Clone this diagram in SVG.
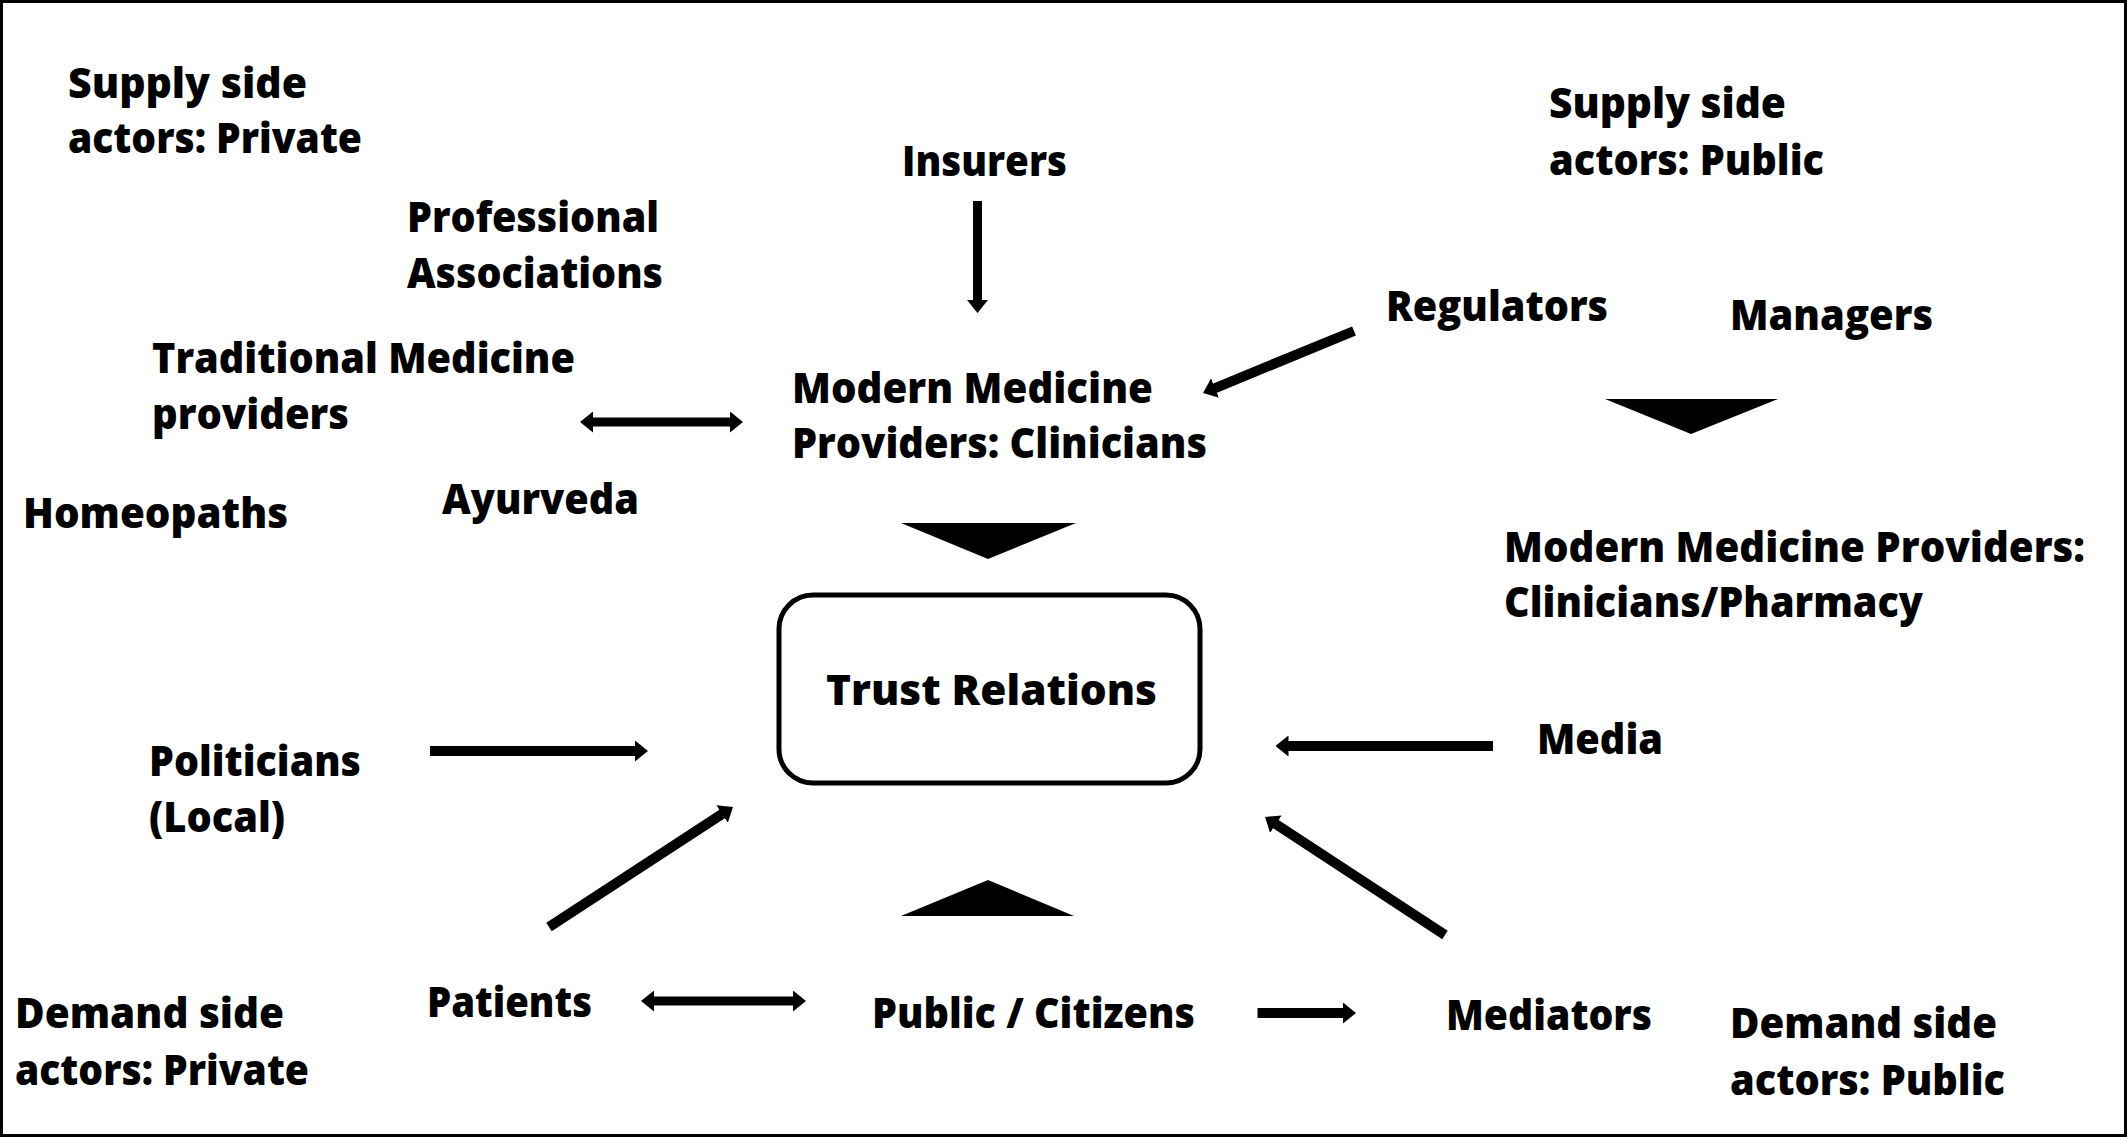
<svg xmlns="http://www.w3.org/2000/svg" width="2127" height="1137" viewBox="0 0 2127 1137">
<style>
text{font-family:"Open Sans","Liberation Sans",sans-serif;font-weight:800;font-size:42px;fill:#000}
.conn{stroke:#000;stroke-width:10;fill:none;stroke-linecap:butt}
.thin{stroke-width:9}
.tri{fill:#000}
</style>
<defs>
<marker id="ah" viewBox="0 0 13 21" markerUnits="userSpaceOnUse" markerWidth="13" markerHeight="21" refX="0.5" refY="10.5" orient="auto-start-reverse"><path d="M0,0 L13,10.5 L0,21 z" fill="#000"/></marker>
</defs>
<rect x="0" y="0" width="2127" height="1137" fill="#fff"/>
<rect x="1.5" y="1.5" width="2124" height="1134" fill="none" stroke="#000" stroke-width="3"/>

<g id="supply-private">
<text x="68" y="98" textLength="239" lengthAdjust="spacingAndGlyphs">Supply side</text>
<text x="68" y="153" textLength="294" lengthAdjust="spacingAndGlyphs">actors: Private</text>
</g>
<g id="insurers"><text x="902" y="176" textLength="165" lengthAdjust="spacingAndGlyphs">Insurers</text></g>
<g id="professional-associations">
<text x="407" y="232" textLength="252" lengthAdjust="spacingAndGlyphs">Professional</text>
<text x="407" y="288" textLength="256" lengthAdjust="spacingAndGlyphs">Associations</text>
</g>
<g id="traditional-medicine">
<text x="152" y="373" textLength="423" lengthAdjust="spacingAndGlyphs">Traditional Medicine</text>
<text x="152" y="429" textLength="197" lengthAdjust="spacingAndGlyphs">providers</text>
</g>
<g id="homeopaths"><text x="23" y="528" textLength="265" lengthAdjust="spacingAndGlyphs">Homeopaths</text></g>
<g id="ayurveda"><text x="442" y="514" textLength="197" lengthAdjust="spacingAndGlyphs">Ayurveda</text></g>
<g id="modern-medicine-clinicians">
<text x="792" y="403" textLength="361" lengthAdjust="spacingAndGlyphs">Modern Medicine</text>
<text x="792" y="458" textLength="415" lengthAdjust="spacingAndGlyphs">Providers: Clinicians</text>
</g>
<g id="supply-public">
<text x="1549" y="118" textLength="237" lengthAdjust="spacingAndGlyphs">Supply side</text>
<text x="1549" y="175" textLength="275" lengthAdjust="spacingAndGlyphs">actors: Public</text>
</g>
<g id="regulators"><text x="1386" y="321" textLength="222" lengthAdjust="spacingAndGlyphs">Regulators</text></g>
<g id="managers"><text x="1730" y="330" textLength="203" lengthAdjust="spacingAndGlyphs">Managers</text></g>
<g id="modern-medicine-pharmacy">
<text x="1504" y="562" textLength="581" lengthAdjust="spacingAndGlyphs">Modern Medicine Providers:</text>
<text x="1504" y="617" textLength="419" lengthAdjust="spacingAndGlyphs">Clinicians/Pharmacy</text>
</g>
<g id="trust-relations">
<rect x="779" y="595" width="421" height="188" rx="34" ry="34" fill="#fff" stroke="#000" stroke-width="5"/>
<text x="826" y="705" textLength="331" lengthAdjust="spacingAndGlyphs">Trust Relations</text>
</g>
<g id="politicians">
<text x="149" y="776" textLength="212" lengthAdjust="spacingAndGlyphs">Politicians</text>
<text x="149" y="832" textLength="136" lengthAdjust="spacingAndGlyphs">(Local)</text>
</g>
<g id="media"><text x="1537" y="754" textLength="126" lengthAdjust="spacingAndGlyphs">Media</text></g>
<g id="patients"><text x="427" y="1017" textLength="165" lengthAdjust="spacingAndGlyphs">Patients</text></g>
<g id="public-citizens"><text x="872" y="1028" textLength="323" lengthAdjust="spacingAndGlyphs">Public / Citizens</text></g>
<g id="mediators"><text x="1446" y="1030" textLength="206" lengthAdjust="spacingAndGlyphs">Mediators</text></g>
<g id="demand-private">
<text x="15" y="1028" textLength="269" lengthAdjust="spacingAndGlyphs">Demand side</text>
<text x="15" y="1085" textLength="294" lengthAdjust="spacingAndGlyphs">actors: Private</text>
</g>
<g id="demand-public">
<text x="1730" y="1038" textLength="267" lengthAdjust="spacingAndGlyphs">Demand side</text>
<text x="1730" y="1095" textLength="275" lengthAdjust="spacingAndGlyphs">actors: Public</text>
</g>

<g id="connectors">
<line class="conn thin" x1="977.5" y1="201" x2="977.5" y2="300.5" marker-end="url(#ah)"/>
<line class="conn thin" x1="592.5" y1="422" x2="730.5" y2="422" marker-start="url(#ah)" marker-end="url(#ah)"/>
<line class="conn" x1="1354" y1="331" x2="1214.6" y2="388.3" marker-end="url(#ah)"/>
<line class="conn" x1="430" y1="751" x2="635.5" y2="751" marker-end="url(#ah)"/>
<line class="conn" x1="549" y1="927" x2="722.5" y2="813.8" marker-end="url(#ah)"/>
<line class="conn" x1="1493" y1="746" x2="1288" y2="746" marker-end="url(#ah)"/>
<line class="conn" x1="1445" y1="935" x2="1275.5" y2="823.9" marker-end="url(#ah)"/>
<line class="conn thin" x1="653.5" y1="1001" x2="793.5" y2="1001" marker-start="url(#ah)" marker-end="url(#ah)"/>
<line class="conn" x1="1257.5" y1="1013" x2="1343.5" y2="1013" marker-end="url(#ah)"/>
<polygon class="tri" points="901,523 1076,523 988,559"/>
<polygon class="tri" points="1605,399 1778,399 1691,434"/>
<polygon class="tri" points="901,916 1074,916 988,880"/>
</g>
</svg>
